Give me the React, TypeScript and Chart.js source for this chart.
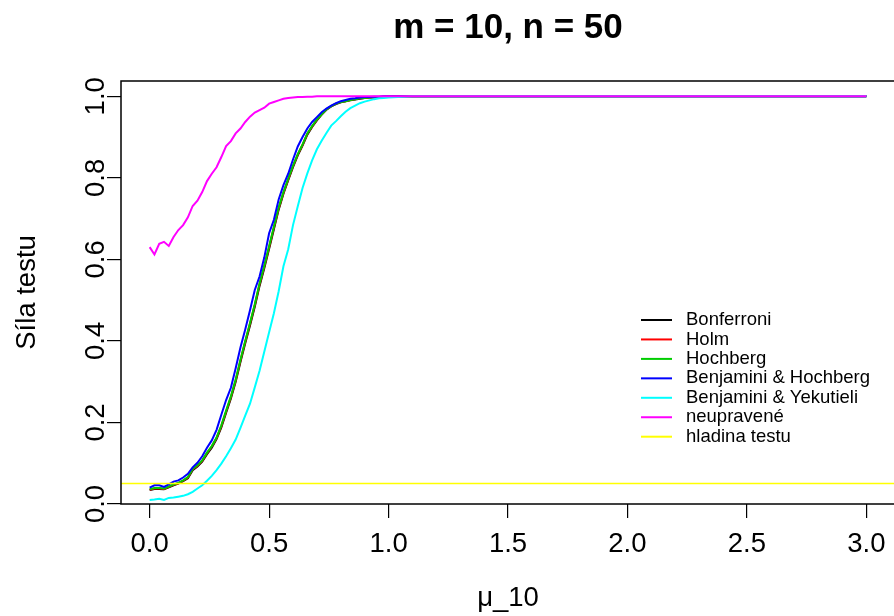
import React, { useEffect, useRef } from "react";
import { Chart, registerables } from "chart.js";

Chart.register(...registerables);

const FONT = "'Liberation Sans', Arial, Helvetica, sans-serif";

// mu_10 grid
const muGrid = [
  0, 0.02, 0.04, 0.06, 0.08, 0.1, 0.12, 0.14, 0.16, 0.18,
  0.2, 0.22, 0.24, 0.26, 0.28, 0.3, 0.32, 0.34, 0.36, 0.38,
  0.4, 0.42, 0.44, 0.46, 0.48, 0.5, 0.52, 0.54, 0.56, 0.58,
  0.6, 0.62, 0.64, 0.66, 0.68, 0.7, 0.72, 0.74, 0.76, 0.78,
  0.8, 0.82, 0.84, 0.86, 0.88, 0.9, 0.92, 0.94, 0.96, 0.98,
  1.0, 1.1, 1.5, 2.0, 2.5, 3.0,
];

const bonferroni = [
  0.034, 0.037, 0.037, 0.036, 0.041, 0.046, 0.050, 0.056, 0.063, 0.083,
  0.092, 0.104, 0.122, 0.138, 0.159, 0.188, 0.224, 0.259, 0.300, 0.348,
  0.394, 0.438, 0.484, 0.535, 0.579, 0.626, 0.674, 0.722, 0.761, 0.794,
  0.826, 0.855, 0.879, 0.906, 0.925, 0.941, 0.955, 0.967, 0.975, 0.981,
  0.985, 0.988, 0.990, 0.992, 0.994, 0.996, 0.997, 0.997, 0.998, 0.999,
  1, 1, 1, 1, 1, 1,
];

const holm = [
  0.035, 0.038, 0.038, 0.037, 0.042, 0.047, 0.051, 0.057, 0.065, 0.085,
  0.094, 0.106, 0.125, 0.141, 0.162, 0.191, 0.227, 0.262, 0.303, 0.352,
  0.398, 0.442, 0.488, 0.539, 0.583, 0.630, 0.678, 0.725, 0.763, 0.796,
  0.829, 0.857, 0.881, 0.908, 0.926, 0.942, 0.956, 0.968, 0.976, 0.982,
  0.986, 0.988, 0.991, 0.993, 0.995, 0.996, 0.997, 0.998, 0.998, 0.999,
  1, 1, 1, 1, 1, 1,
];

const hochberg = [
  0.036, 0.039, 0.039, 0.038, 0.043, 0.048, 0.052, 0.058, 0.066, 0.086,
  0.095, 0.107, 0.126, 0.142, 0.163, 0.193, 0.229, 0.264, 0.305, 0.354,
  0.400, 0.444, 0.490, 0.541, 0.585, 0.632, 0.680, 0.727, 0.765, 0.798,
  0.830, 0.858, 0.882, 0.909, 0.927, 0.943, 0.956, 0.968, 0.976, 0.982,
  0.986, 0.988, 0.991, 0.993, 0.995, 0.996, 0.997, 0.998, 0.998, 0.999,
  1, 1, 1, 1, 1, 1,
];

const benjaminiHochberg = [
  0.040, 0.046, 0.046, 0.042, 0.048, 0.055, 0.058, 0.065, 0.074, 0.090,
  0.101, 0.117, 0.138, 0.156, 0.182, 0.219, 0.255, 0.285, 0.333, 0.384,
  0.428, 0.475, 0.525, 0.558, 0.605, 0.664, 0.697, 0.747, 0.782, 0.810,
  0.845, 0.877, 0.900, 0.921, 0.937, 0.949, 0.961, 0.970, 0.977, 0.983,
  0.988, 0.991, 0.994, 0.995, 0.997, 0.998, 0.998, 0.999, 0.999, 1,
  1, 1, 1, 1, 1, 1,
];

const benjaminiYekutieli = [
  0.010, 0.011, 0.013, 0.010, 0.015, 0.016, 0.018, 0.020, 0.024, 0.030,
  0.038, 0.046, 0.057, 0.069, 0.083, 0.099, 0.117, 0.137, 0.158, 0.187,
  0.217, 0.246, 0.286, 0.327, 0.374, 0.421, 0.468, 0.522, 0.583, 0.625,
  0.684, 0.730, 0.775, 0.811, 0.843, 0.870, 0.891, 0.910, 0.928, 0.939,
  0.951, 0.962, 0.971, 0.977, 0.983, 0.987, 0.990, 0.993, 0.995, 0.996,
  0.997, 1, 1, 1, 1, 1,
];

const neupravene = [
  0.630, 0.612, 0.638, 0.643, 0.633, 0.655, 0.672, 0.684, 0.703, 0.731,
  0.744, 0.765, 0.792, 0.810, 0.826, 0.851, 0.878, 0.890, 0.909, 0.921,
  0.937, 0.950, 0.960, 0.966, 0.972, 0.982, 0.986, 0.990, 0.994, 0.996,
  0.997, 0.998, 0.998, 0.999, 0.999, 1, 1, 1, 1, 1,
  1, 1, 1, 1, 1, 1, 1, 1, 1, 1,
  1, 1, 1, 1, 1, 1,
];

const hladinaTestu = 0.05;

const xTicks = [0, 0.5, 1, 1.5, 2, 2.5, 3];
const yTicks = [0, 0.2, 0.4, 0.6, 0.8, 1.0];

const seriesLabels = [
  "Bonferroni",
  "Holm",
  "Hochberg",
  "Benjamini & Hochberg",
  "Benjamini & Yekutieli",
  "neupravené",
  "hladina testu",
];
const seriesColors = ["#000000", "#FF0000", "#00CD00", "#0000FF", "#00FFFF", "#FF00FF", "#FFFF00"];

const X_MIN = -0.12;
const X_MAX = 3.12;

const boxPlugin = {
  id: "rbox",
  afterDraw(chart: any) {
    const { ctx, chartArea } = chart;
    ctx.save();
    ctx.strokeStyle = "#000";
    ctx.lineWidth = 1.5;
    ctx.strokeRect(chartArea.left, chartArea.top, chartArea.right - chartArea.left, chartArea.bottom - chartArea.top);
    ctx.restore();
  },
};

const legendPlugin = {
  id: "rlegend",
  afterDraw(chart: any) {
    const { ctx } = chart;
    const ds = chart.data.datasets;
    ctx.save();
    ctx.font = `18.5px ${FONT}`;
    ctx.textBaseline = "middle";
    ctx.textAlign = "left";
    for (let i = 0; i < ds.length; i++) {
      const y = 320 + i * 19.45;
      ctx.strokeStyle = ds[i].borderColor;
      ctx.lineWidth = 2;
      ctx.beginPath();
      ctx.moveTo(641, y);
      ctx.lineTo(672, y);
      ctx.stroke();
      ctx.fillStyle = "#000";
      ctx.fillText(ds[i].label, 686, y);
    }
    ctx.restore();
  },
};

export default function App() {
  const ref = useRef<HTMLCanvasElement | null>(null);

  useEffect(() => {
    if (!ref.current) return;
    const series = [bonferroni, holm, hochberg, benjaminiHochberg, benjaminiYekutieli, neupravene];
    const datasets: any[] = series.map((vals, i) => ({
      label: seriesLabels[i],
      data: muGrid.map((x, j) => ({ x, y: vals[j] })),
      borderColor: seriesColors[i],
      backgroundColor: seriesColors[i],
      borderWidth: 2,
      pointRadius: 0,
      tension: 0,
      fill: false,
      order: -i,
    }));
    datasets.push({
      label: seriesLabels[6],
      data: [
        { x: X_MIN, y: hladinaTestu },
        { x: X_MAX, y: hladinaTestu },
      ],
      borderColor: seriesColors[6],
      backgroundColor: seriesColors[6],
      borderWidth: 1.5,
      pointRadius: 0,
      tension: 0,
      fill: false,
      order: -6,
    });

    const tickFont = { family: FONT, size: 27.5 };

    const chart = new Chart(ref.current, {
      type: "line",
      data: { datasets },
      options: {
        responsive: false,
        animation: false,
        devicePixelRatio: 1,
        layout: { padding: { left: 0, top: 0, right: 25, bottom: 0 } },
        plugins: {
          legend: { display: false },
          tooltip: { enabled: false },
          title: {
            display: true,
            text: "m = 10, n = 50",
            fullSize: false,
            color: "#000",
            font: { family: FONT, size: 35, weight: "bold" },
            padding: { top: 7, bottom: 32 },
          },
        },
        scales: {
          x: {
            type: "linear",
            min: X_MIN,
            max: X_MAX,
            afterBuildTicks: (s: any) => {
              s.ticks = xTicks.map((v) => ({ value: v }));
            },
            afterFit: (s: any) => {
              s.height = 112;
            },
            ticks: {
              font: tickFont,
              color: "#000",
              padding: 9.5,
              autoSkip: false,
              minRotation: 0,
              maxRotation: 0,
              callback: (v: any) => Number(v).toFixed(1),
            },
            grid: { drawOnChartArea: false, drawTicks: true, tickLength: 14, color: "#000", lineWidth: 1.2 },
            border: { display: false },
            title: { display: true, text: "μ_10", color: "#000", font: tickFont, padding: { top: 0, bottom: 1.5 } },
          },
          y: {
            type: "linear",
            min: 0,
            max: 1.0375,
            afterBuildTicks: (s: any) => {
              s.ticks = yTicks.map((v) => ({ value: v }));
            },
            afterFit: (s: any) => {
              s.width = 121;
            },
            ticks: {
              font: tickFont,
              color: "#000",
              padding: -9,
              autoSkip: false,
              minRotation: 90,
              maxRotation: 90,
              crossAlign: "center",
              callback: (v: any) => Number(v).toFixed(1),
            },
            grid: { drawOnChartArea: false, drawTicks: true, tickLength: 14, color: "#000", lineWidth: 1.2 },
            border: { display: false },
            title: { display: true, text: "Síla testu", color: "#000", font: tickFont, padding: { top: 11, bottom: 0 } },
          },
        },
      } as any,
      plugins: [boxPlugin, legendPlugin],
    });
    return () => chart.destroy();
  }, []);

  return (
    <div style={{ position: "absolute", left: 0, top: 0, width: 894, height: 616, overflow: "hidden", background: "#fff" }}>
      <canvas ref={ref} width={920} height={616} style={{ width: 920, height: 616, display: "block" }} />
    </div>
  );
}
